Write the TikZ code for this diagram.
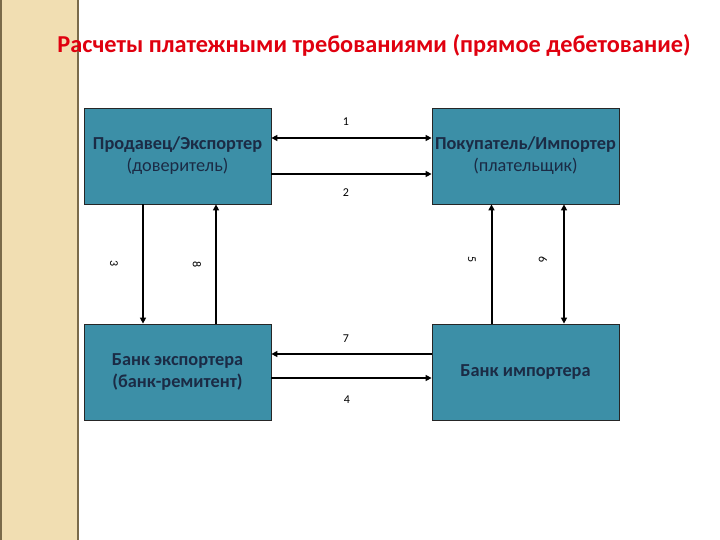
\documentclass[tikz,border=0pt]{standalone}
\usepackage{fontspec}
\setmainfont{Carlito}
\usetikzlibrary{arrows.meta}
\definecolor{boxfill}{HTML}{3C8FA7}
\definecolor{boxtext}{HTML}{1B2B45}
\definecolor{strip}{HTML}{F1DEB2}
\definecolor{stripedge}{HTML}{7A6A4A}
\definecolor{titlered}{HTML}{E0000F}
\tikzset{
  box/.style={draw=black!85,line width=0.8pt,fill=boxfill,minimum width=187pt,minimum height=96pt,inner sep=2pt,align=center,text=boxtext,font=\fontsize{18.3}{22}\selectfont},
  arr/.style={line width=2pt,-{Triangle[length=6pt,width=6pt]}},
  darr/.style={line width=2pt,{Triangle[length=6pt,width=6pt]}-{Triangle[length=6pt,width=6pt]}},
  num/.style={font=\fontsize{12}{14}\selectfont,inner sep=0pt}
}
\begin{document}
\begin{tikzpicture}[x=1pt,y=-1pt]
\useasboundingbox (0,0) rectangle (720,540);
\fill[white] (0,0) rectangle (720,540);
\fill[strip] (0,0) rectangle (78,540);
\draw[stripedge,line width=1.2pt] (78,0) -- (78,540);
\draw[stripedge,line width=1.5pt] (0.75,0) -- (0.75,540);
\node[text=titlered,font=\bfseries\fontsize{24.3}{28}\selectfont] (title) at (374,45) {Расчеты платежными требованиями (прямое дебетование)};
\node[box] (b1) at (177.5,156) {\textbf{Продавец/Экспортер}\\(доверитель)};
\node[box] (b2) at (525.5,156) {\textbf{Покупатель/Импортер}\\(плательщик)};
\node[box] (b3) at (177.5,372) {\textbf{Банк экспортера}\\\textbf{(банк-ремитент)}};
\node[box] (b4) at (525.5,372) {\textbf{Банк импортера}};
\draw[darr] ([yshift=18pt]b1.east) -- ([yshift=18pt]b2.west);
\draw[arr] ([yshift=-18pt]b1.east) -- ([yshift=-18pt]b2.west);
\draw[arr] ([yshift=18pt]b4.west) -- ([yshift=18pt]b3.east);
\draw[arr] ([yshift=-6pt]b3.east) -- ([yshift=-6pt]b4.west);
\draw[arr] ([xshift=-34.5pt]b1.south) -- ([xshift=-34.5pt]b3.north);
\draw[arr] ([xshift=38.5pt]b3.north) -- ([xshift=38.5pt]b1.south);
\draw[arr] ([xshift=-34pt]b4.north) -- ([xshift=-34pt]b2.south);
\draw[darr] ([xshift=38.5pt]b2.south) -- ([xshift=38.5pt]b4.north);
\node[num] (n1) at (346,122) {1};
\node[num] (n2) at (346,193) {2};
\node[num,rotate=-90] (n3) at (114,264) {3};
\node[num,rotate=-90] (n8) at (197,265) {8};
\node[num,rotate=-90] (n5) at (472,260) {5};
\node[num,rotate=-90] (n6) at (543,260) {6};
\node[num] (n7) at (346,339) {7};
\node[num] (n4) at (347,400) {4};
\end{tikzpicture}
\end{document}
